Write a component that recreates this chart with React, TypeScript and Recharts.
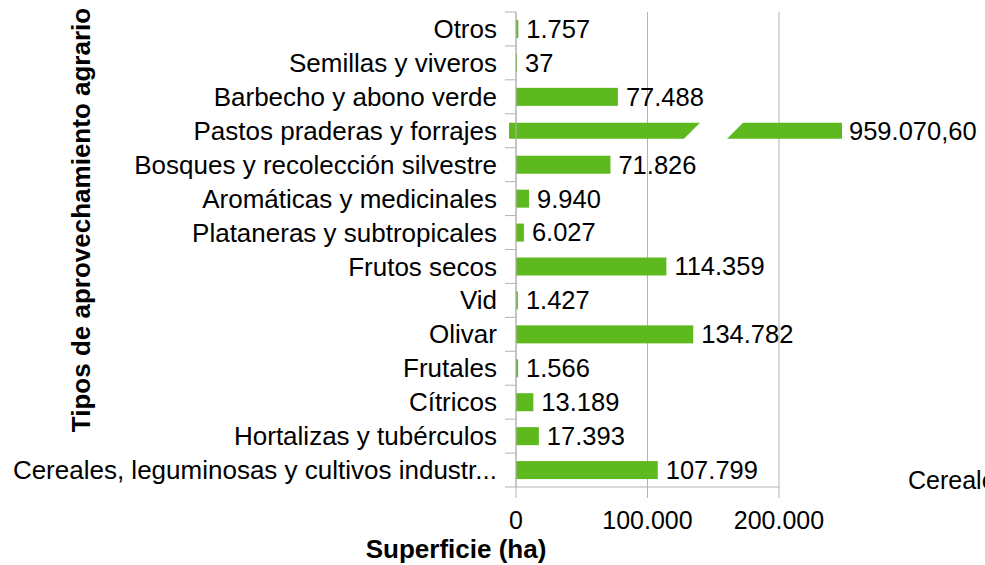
import { BarChart, Bar, XAxis, YAxis, CartesianGrid, LabelList, Label } from 'recharts';

const categories = [
  'Cereales, leguminosas y cultivos industriales',
  'Hortalizas y tubérculos',
  'Cítricos',
  'Frutales',
  'Olivar',
  'Vid',
  'Frutos secos',
  'Plataneras y subtropicales',
  'Aromáticas y medicinales',
  'Bosques y recolección silvestre',
  'Pastos praderas y forrajes',
  'Barbecho y abono verde',
  'Semillas y viveros',
  'Otros',
];
const superficie = [107799, 17393, 13189, 1566, 134782, 1427, 114359, 6027, 9940, 71826, 959070.6, 77488, 37, 1757];
const xTicks = [0, 100000, 200000];

const X_MAX = 200000;
const GREEN = '#5eb91e';
const GRID = '#b3b3b3';
const FONT = '"Liberation Sans", Arial, sans-serif';
const BAND = 475 / categories.length;

const data = categories.map((name, i) => ({ name, value: superficie[i] }));

// 1234567.8 -> "1.234.567,80"
const fmt = (v: number) => {
  const [i, d] = v.toFixed(Number.isInteger(v) ? 0 : 2).split('.');
  const grouped = i.replace(/\B(?=(\d{3})+(?!\d))/g, '.');
  return d ? `${grouped},${d}` : grouped;
};

const shortName = (s: string) => (s.length > 43 ? s.slice(0, 40) + '...' : s);

// bars past the axis max get drawn with a break
const BrokenBar = (props: any) => {
  const { x, y, width, height, payload } = props;
  if (payload.value <= X_MAX) {
    return <rect x={x} y={y} width={Math.max(width, 1)} height={height} fill={GREEN} />;
  }
  const t = y + 1;
  const b = y + height - 1;
  const end = x + width + 63;
  return (
    <g>
      <polygon points={`${x - 7},${t} ${x + 184},${t} ${x + 168},${b} ${x - 7},${b}`} fill={GREEN} />
      <polygon points={`${x + 227},${t} ${end},${t} ${end},${b} ${x + 211},${b}`} fill={GREEN} />
    </g>
  );
};

const ValueLabel = (props: any) => {
  const { x, y, width, height, value } = props;
  const right = value > X_MAX ? x + width + 63 + 7 : x + Math.max(width, 1) + 8;
  return (
    <text x={right} y={y + height / 2} dy="0.35em" fontSize={25.5} fontFamily={FONT} fill="#000">
      {fmt(value)}
    </text>
  );
};

const CategoryTick = (props: any) => {
  const { x, y, payload, index } = props;
  const half = BAND / 2;
  return (
    <g>
      <line x1={x - 11} x2={x} y1={y - half} y2={y - half} stroke={GRID} />
      {index === 0 && <line x1={x - 11} x2={x} y1={y + half} y2={y + half} stroke={GRID} />}
      <text x={x - 19} y={y} dy="0.35em" textAnchor="end" fontSize={26} fontFamily={FONT} fill="#000">
        {shortName(payload.value)}
      </text>
    </g>
  );
};

export default function App() {
  return (
    <div style={{ position: 'absolute', left: 0, top: 0, width: 985, height: 565, overflow: 'hidden', background: '#fff', fontFamily: FONT }}>
      <BarChart
        width={985}
        height={565}
        data={data}
        layout="vertical"
        margin={{ top: 12, right: 206, bottom: 0, left: 0 }}
      >
        <CartesianGrid horizontal={false} stroke={GRID} />
        <XAxis
          type="number"
          domain={[0, X_MAX]}
          ticks={xTicks}
          tickFormatter={fmt}
          height={78}
          axisLine={{ stroke: GRID }}
          tickLine={{ stroke: GRID }}
          tickSize={11}
          tickMargin={13}
          tick={{ fill: '#000', fontSize: 25, fontFamily: FONT }}
        >
          <Label
            content={() => (
              <text x={456} y={558} textAnchor="middle" fontSize={26} fontWeight="bold" fontFamily={FONT} fill="#000">
                Superficie (ha)
              </text>
            )}
          />
        </XAxis>
        <YAxis
          type="category"
          dataKey="name"
          reversed
          width={516}
          interval={0}
          axisLine={{ stroke: GRID }}
          tickLine={false}
          tickSize={0}
          tickMargin={0}
          tick={<CategoryTick />}
        >
          <Label
            content={() => (
              <text x={90} y={220} transform="rotate(-90 90 220)" textAnchor="middle" fontSize={26} fontWeight="bold" fontFamily={FONT} fill="#000">
                Tipos de aprovechamiento agrario
              </text>
            )}
          />
        </YAxis>
        <Bar
          dataKey={(d: any) => Math.min(d.value, X_MAX)}
          barSize={18}
          fill={GREEN}
          shape={<BrokenBar />}
          isAnimationActive={false}
        >
          <LabelList dataKey="value" content={<ValueLabel />} />
        </Bar>
      </BarChart>
      <div style={{ position: 'absolute', left: 908, top: 466, fontSize: 25, whiteSpace: 'nowrap', color: '#000' }}>
        {categories[0]}
      </div>
    </div>
  );
}
